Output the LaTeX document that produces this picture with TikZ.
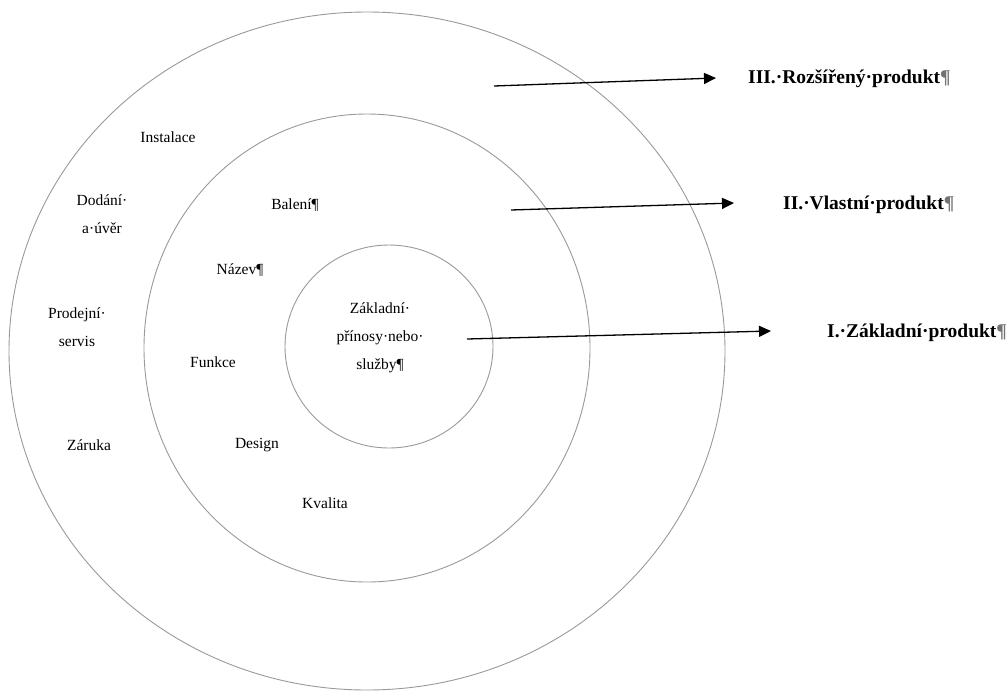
\documentclass[tikz,border=0pt]{standalone}
\usepackage{fontspec}
\setmainfont{Liberation Serif}
\usetikzlibrary{arrows.meta}
\begin{document}
\begin{tikzpicture}[x=1pt,y=-1pt,
  ring/.style={draw=black!40,line width=0.9pt},
  lbl/.style={font=\fontsize{15.5}{28}\selectfont,align=center,inner sep=0pt},
  head/.style={font=\bfseries\fontsize{19.5}{24}\selectfont,anchor=west,inner sep=0pt},
  pointer/.style={line width=1.3pt,-{Triangle[length=12pt,width=11pt]}}]
\useasboundingbox (0,0) rectangle (1007,691);
% rings
\draw[ring] (367,351) ellipse [x radius=358, y radius=339];
\draw[ring] (367,348) ellipse [x radius=223, y radius=234];
\draw[ring] (389,346.5) ellipse [x radius=104, y radius=101.5];
% inner labels
\node[lbl] (core) at (380,338) {Základní·\\přínosy·nebo·\\služby¶};
\node[lbl] (inst) at (168,137) {Instalace};
\node[lbl] (dod) at (102,214) {Dodání·\\a·úvěr};
\node[lbl] (pro) at (77,327) {Prodejní·\\servis};
\node[lbl] (zar) at (89,445) {Záruka};
\node[lbl] (bal) at (295,205) {Balení¶};
\node[lbl] (naz) at (240,270) {Název¶};
\node[lbl] (fun) at (213,362) {Funkce};
\node[lbl] (des) at (257,445) {Design};
\node[lbl] (kva) at (325,503) {Kvalita};
% headings
\node[head] (h3) at (748,79) {III.·Rozšířený·produkt{\color{black!55}¶}};
\node[head] (h2) at (783,205) {II.·Vlastní·produkt{\color{black!55}¶}};
\node[head] (h1) at (827,333) {I.·Základní·produkt{\color{black!55}¶}};
% arrows
\coordinate (a3s) at (494,86);
\coordinate (a3e) at (716,78);
\coordinate (a2s) at (511,210);
\coordinate (a2e) at (734,203);
\coordinate (a1s) at (467,339);
\coordinate (a1e) at (771,331);
\draw[pointer] (a3s) -- (a3e);
\draw[pointer] (a2s) -- (a2e);
\draw[pointer] (a1s) -- (a1e);
\end{tikzpicture}
\end{document}
